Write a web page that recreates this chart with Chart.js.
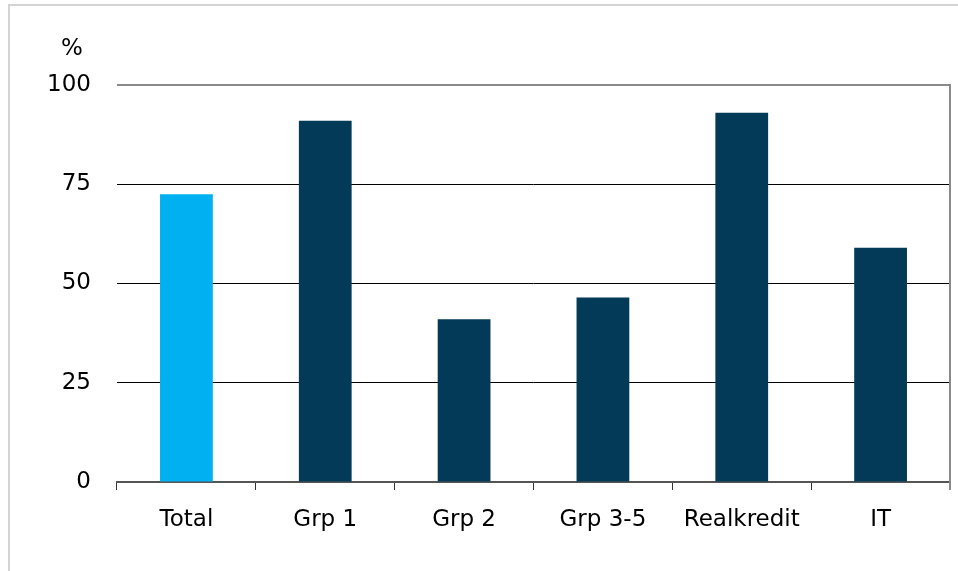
<!DOCTYPE html>
<html>
<head>
<meta charset="utf-8">
<script src="https://cdn.jsdelivr.net/npm/chart.js@4.4.1/dist/chart.umd.min.js"></script>
<style>
  html, body { margin: 0; padding: 0; background: #ffffff; }
  #wrap { position: relative; width: 958px; height: 571px; overflow: hidden; }
  #frame { position: absolute; left: 8px; top: 4px; width: 1000px; height: 600px;
           border-top: 2px solid #d4d4d4; border-left: 2px solid #d4d4d4; }
  canvas { position: absolute; left: 0; top: 0; }
</style>
</head>
<body>
<div id="wrap">
  <div id="frame"></div>
  <canvas id="chart" width="958" height="571"></canvas>
</div>
<script>
// Share of institutions, per group (%)
const categories = ['Total', 'Grp 1', 'Grp 2', 'Grp 3-5', 'Realkredit', 'IT'];
const shares = [72.5, 91, 41, 46.5, 93, 59];
const barColors = ['#00b0f0', '#023a58', '#023a58', '#023a58', '#023a58', '#023a58'];
const yTicks = [0, 25, 50, 75, 100];
const unitLabel = '%';

const FONT = 'DejaVu Sans, Verdana, sans-serif';
const FONT_SIZE = 23;

// Frame around the plot: grey right edge, unit label above the value axis
const framePlugin = {
  id: 'framePlugin',
  afterDraw(chart) {
    const { ctx, chartArea } = chart;
    ctx.save();
    ctx.strokeStyle = '#8a8a8a';
    ctx.lineWidth = 2;
    ctx.beginPath();
    ctx.moveTo(chartArea.right, chartArea.top - 1);
    ctx.lineTo(chartArea.right, chartArea.bottom + 8);
    ctx.stroke();
    ctx.fillStyle = '#000';
    ctx.font = FONT_SIZE + 'px ' + FONT;
    ctx.textAlign = 'center';
    ctx.textBaseline = 'middle';
    ctx.fillText(unitLabel, 72, 49);
    ctx.restore();
  }
};

new Chart(document.getElementById('chart'), {
  type: 'bar',
  data: {
    labels: categories,
    datasets: [{
      data: shares,
      backgroundColor: barColors,
      borderWidth: 0,
      barPercentage: 0.38,
      categoryPercentage: 1
    }]
  },
  options: {
    responsive: false,
    animation: false,
    events: [],
    layout: { padding: { left: 0, top: 85, right: 8, bottom: 0 } },
    plugins: { legend: { display: false }, tooltip: { enabled: false }, title: { display: false } },
    scales: {
      x: {
        afterFit(scale) { scale.height = 89; },
        grid: {
          offset: true,
          drawOnChartArea: false,
          drawTicks: true,
          tickLength: 8,
          color: '#333',
          lineWidth: 1
        },
        border: { display: true, color: '#555', width: 2 },
        ticks: { color: '#000', font: { family: FONT, size: FONT_SIZE }, padding: 16, maxRotation: 0 }
      },
      y: {
        min: 0, max: 100,
        afterFit(scale) { scale.width = 117; },
        afterBuildTicks(scale) { scale.ticks = yTicks.map(v => ({ value: v })); },
        grid: {
          drawTicks: false,
          color: c => (c.tick && c.tick.value === 100) ? '#8a8a8a' : (c.tick && c.tick.value === 0 ? 'rgba(0,0,0,0)' : '#000'),
          lineWidth: c => (c.tick && c.tick.value === 100) ? 2 : 1
        },
        border: { display: false },
        ticks: { color: '#000', font: { family: FONT, size: FONT_SIZE }, padding: 26 }
      }
    }
  },
  plugins: [framePlugin]
});
</script>
</body>
</html>
